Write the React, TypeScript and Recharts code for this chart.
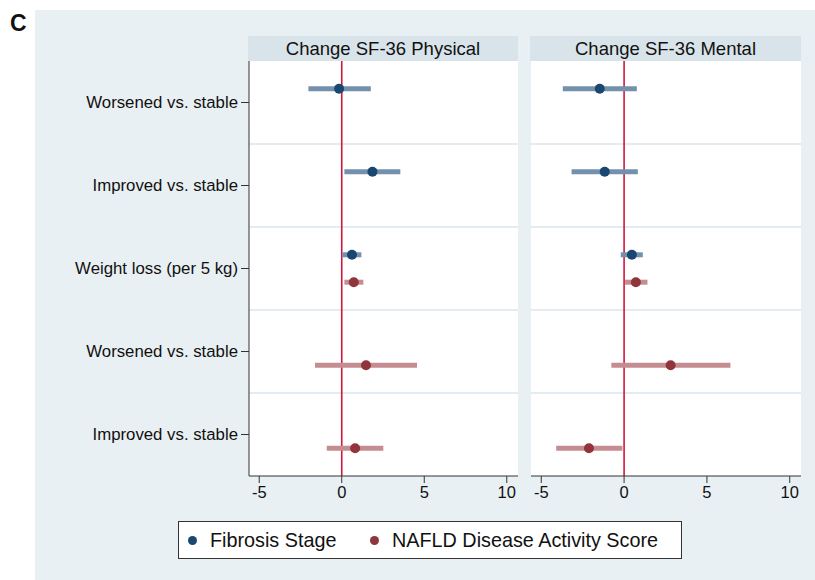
import { ScatterChart, Scatter, XAxis, YAxis, CartesianGrid, ReferenceLine, ErrorBar } from 'recharts';

const rowLabels = [
  'Worsened vs. stable',
  'Improved vs. stable',
  'Weight loss (per 5 kg)',
  'Worsened vs. stable',
  'Improved vs. stable',
];
const rowBounds = [1, 2, 3, 4];
const xTicks = [-5, 0, 5, 10];

// fibrosis stage rows 0-2, NAS rows 2-4
const fibRows = [0, 1, 2];
const nasRows = [2, 3, 4];

const physFibEst = [-0.16, 1.86, 0.62];
const physFibLo = [-2.02, 0.16, 0.04];
const physFibHi = [1.76, 3.55, 1.19];
const physNasEst = [0.73, 1.47, 0.81];
const physNasLo = [0.16, -1.62, -0.91];
const physNasHi = [1.31, 4.56, 2.52];

const mentFibEst = [-1.47, -1.17, 0.47];
const mentFibLo = [-3.7, -3.17, -0.2];
const mentFibHi = [0.77, 0.83, 1.13];
const mentNasEst = [0.71, 2.81, -2.12];
const mentNasLo = [0.06, -0.77, -4.1];
const mentNasHi = [1.41, 6.42, -0.1];

const series = [
  { name: 'Fibrosis Stage', color: '#1a476f', ci: '#7391ad', offset: -0.165 },
  { name: 'NAFLD Disease Activity Score', color: '#90353b', ci: '#c58d91', offset: 0.165 },
];

const FONT = '"Liberation Sans", Arial, sans-serif';

const build = (rows: number[], est: number[], lo: number[], hi: number[], offset: number) =>
  rows.map((r, i) => ({ x: est[i], y: r + 0.5 + offset, err: [est[i] - lo[i], hi[i] - est[i]] }));

const panels = [
  {
    title: 'Change SF-36 Physical',
    fib: build(fibRows, physFibEst, physFibLo, physFibHi, series[0].offset),
    nas: build(nasRows, physNasEst, physNasLo, physNasHi, series[1].offset),
  },
  {
    title: 'Change SF-36 Mental',
    fib: build(fibRows, mentFibEst, mentFibLo, mentFibHi, series[0].offset),
    nas: build(nasRows, mentNasEst, mentNasLo, mentNasHi, series[1].offset),
  },
];

const Dot = (props: any) => <circle cx={props.cx} cy={props.cy} r={5} fill={props.fill} />;

const Panel = ({ idx, left, width, yWidth }: { idx: number; left: number; width: number; yWidth: number }) => {
  const p = panels[idx];
  const plotLeft = left + yWidth;
  return (
    <>
      <div
        style={{
          position: 'absolute',
          left: plotLeft - 1,
          top: 36,
          width: width - yWidth + 1,
          height: 25,
          background: '#d8e4ea',
          textAlign: 'center',
          lineHeight: '25px',
          fontSize: 18.5,
          color: '#111',
          fontFamily: FONT,
        }}
      >
        {p.title}
      </div>
      <div style={{ position: 'absolute', left, top: 61 }}>
        <ScatterChart width={width} height={449} margin={{ top: 0, right: 0, bottom: 0, left: 0 }}>
          <CartesianGrid fill="#ffffff" vertical={false} horizontalValues={rowBounds} stroke="#e3ecf1" strokeWidth={2} />
          <XAxis
            type="number"
            dataKey="x"
            domain={[-5.62, 10.68]}
            ticks={xTicks}
            allowDataOverflow
            height={34}
            tickSize={7}
            tickMargin={3}
            stroke="#333"
            tick={{ fill: '#111', fontSize: 16.5, fontFamily: FONT }}
          />
          <YAxis
            type="number"
            dataKey="y"
            domain={[0, 5]}
            reversed
            ticks={[0.5, 1.5, 2.5, 3.5, 4.5]}
            tickFormatter={(v: number) => rowLabels[Math.floor(v)]}
            width={yWidth}
            hide={yWidth === 0}
            tickSize={8}
            tickMargin={3}
            stroke="#333"
            tick={{ fill: '#111', fontSize: 16.8, fontFamily: FONT }}
          />
          <ReferenceLine x={0} stroke="#d1163f" strokeWidth={1.6} />
          <Scatter data={p.fib} fill={series[0].color} shape={Dot} isAnimationActive={false}>
            <ErrorBar dataKey="err" direction="x" width={0} stroke={series[0].ci} strokeWidth={5} />
          </Scatter>
          <Scatter data={p.nas} fill={series[1].color} shape={Dot} isAnimationActive={false}>
            <ErrorBar dataKey="err" direction="x" width={0} stroke={series[1].ci} strokeWidth={5} />
          </Scatter>
        </ScatterChart>
      </div>
    </>
  );
};

export default function App() {
  return (
    <div style={{ position: 'absolute', left: 0, top: 0, width: 815, height: 580, background: '#fff', fontFamily: FONT }}>
      <div style={{ position: 'absolute', left: 35, top: 10, width: 780, height: 570, background: '#e9f0f3' }} />
      <div style={{ position: 'absolute', left: 10, top: 10, fontSize: 23, fontWeight: 'bold', color: '#111' }}>C</div>
      <Panel idx={0} left={35} width={483} yWidth={214} />
      <Panel idx={1} left={531} width={270} yWidth={0} />
      <div
        style={{
          position: 'absolute',
          left: 178,
          top: 521,
          width: 502,
          height: 36,
          background: '#fff',
          border: '1px solid #333',
        }}
      >
        {series.map((s, i) => (
          <div
            key={s.name}
            style={{
              position: 'absolute',
              left: i === 0 ? 9 : 191,
              top: 0,
              height: 36,
              display: 'flex',
              alignItems: 'center',
              fontSize: 19.8,
              color: '#111',
            }}
          >
            <span
              style={{
                display: 'inline-block',
                width: 9,
                height: 9,
                borderRadius: '50%',
                background: s.color,
                marginRight: 13,
              }}
            />
            {s.name}
          </div>
        ))}
      </div>
    </div>
  );
}
